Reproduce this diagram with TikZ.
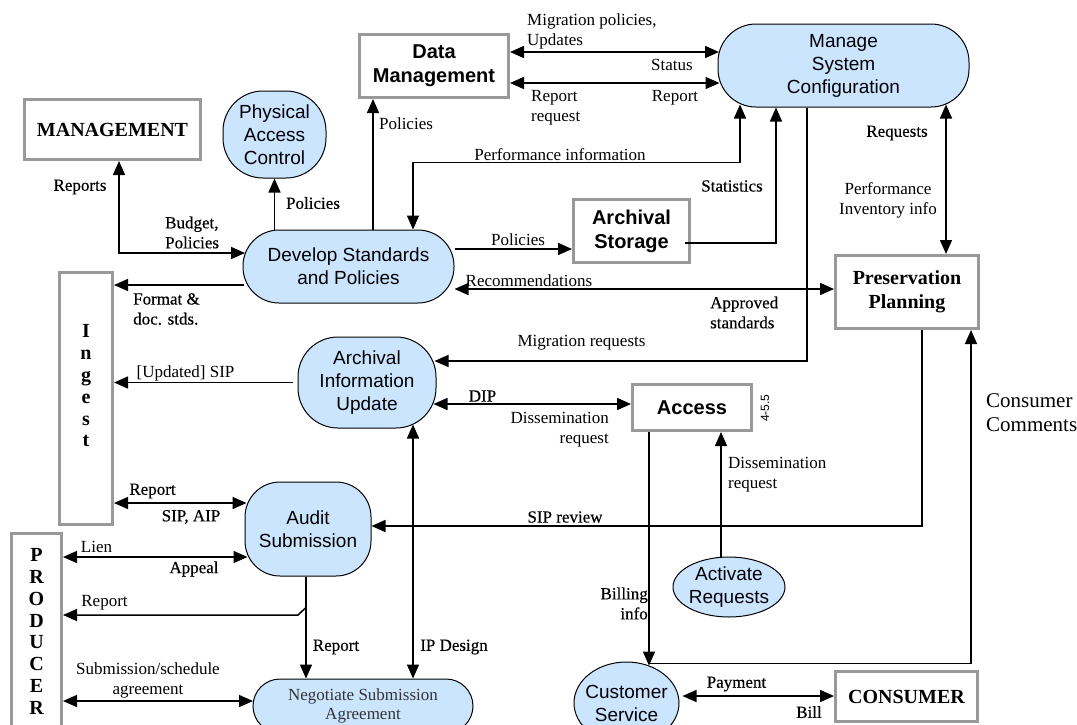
\documentclass[tikz,border=0pt]{standalone}
\usepackage{fontspec}
\setmainfont{Liberation Serif}
\setsansfont{Liberation Sans}
\newfontfamily\heavyserif[BoldFont=Liberation Serif, BoldFeatures={FakeBold=0.35}]{Liberation Serif}
\usetikzlibrary{arrows.meta,calc,shapes.geometric,shapes.misc}

\definecolor{procfill}{RGB}{204,229,255}
\definecolor{boxgray}{RGB}{153,153,153}
\definecolor{nsatext}{RGB}{51,51,51}

\tikzset{
  proc/.style={draw=black, line width=1pt, fill=procfill, align=center, inner sep=0pt,
    font=\sffamily\fontsize{19}{23}\selectfont},
  entity/.style={draw=boxgray, line width=3pt, fill=white, align=center, inner sep=0pt},
  entser/.style={entity, font=\bfseries\fontsize{20}{24}\selectfont},
  entsans/.style={entity, font=\sffamily\bfseries\fontsize{20}{24}\selectfont},
  letters/.style={align=center, inner sep=0pt, font=\bfseries\fontsize{20}{21.8}\selectfont},
  lbl/.style={font=\fontsize{17}{20}\selectfont, inner sep=0pt, align=center},
  hlbl/.style={lbl, font=\heavyserif\bfseries\fontsize{17}{20}\selectfont},
  flow/.style={line width=1.5pt, -{Triangle[length=14pt,width=12pt]}},
  biflow/.style={line width=1.5pt, {Triangle[length=14pt,width=12pt]}-{Triangle[length=14pt,width=12pt]}},
}

\begin{document}
\begin{tikzpicture}[x=1pt,y=-1pt]
\useasboundingbox (0,0) rectangle (1077,724);

% ---------- external entities and functions ----------
\node[entser, minimum width=176pt, minimum height=60pt] (mgmt) at (112.5,129.5) {MANAGEMENT};
\node[proc, minimum width=103pt, minimum height=87pt, rounded corners=40pt] (pac) at (274.5,134.5) {Physical\\Access\\Control};
\node[entsans, minimum width=149pt, minimum height=63pt] (dm) at (434,66) {Data\\Management};
\node[proc, minimum width=251pt, minimum height=83pt, rounded corners=38pt] (msc) at (843.5,65.5) {Manage\\System\\Configuration};
\node[proc, minimum width=211pt, minimum height=73pt, rounded corners=36pt] (dsp) at (348.5,266.5) {Develop Standards\\and Policies};
\node[entsans, minimum width=116pt, minimum height=63pt] (ast) at (631.5,231) {Archival\\Storage};
\node[entser, minimum width=143pt, minimum height=73pt] (pp) at (907,292) {Preservation\\Planning};

\node[entity, minimum width=53pt, minimum height=252pt] (ingest) at (86,398.5) {};
\node[letters] (ingestlbl) at (86,386) {I\\n\\g\\e\\s\\t};

\node[proc, minimum width=138pt, minimum height=91pt, rounded corners=40pt] (aiu) at (367,382.5) {Archival\\Information\\Update};
\node[entsans, minimum width=119pt, minimum height=46pt] (access) at (692,407.5) {Access};
\node[rotate=90, inner sep=0pt, font=\sffamily\fontsize{12}{14}\selectfont] (secnum) at (765,408) {4-5.5};

\node[proc, minimum width=126pt, minimum height=94pt, rounded corners=35pt] (audit) at (308,529) {Audit\\Submission};

\node[entity, minimum width=50pt, minimum height=196pt] (producer) at (36.5,631.5) {};
\node[letters] (producerlbl) at (36.5,631.5) {P\\R\\O\\D\\U\\C\\E\\R};

\node[proc, ellipse, inner xsep=-2pt, minimum width=112pt, minimum height=60pt] (ar) at (729,587) {Activate\\Requests};
\node[proc, ellipse, inner xsep=-6pt, minimum width=105pt, minimum height=82pt] (cs) at (626.5,703) {Customer\\Service};
\node[proc, rounded rectangle, minimum width=220pt, minimum height=54pt, text=nsatext,
  font=\fontsize{17}{19}\selectfont] (nsa) at (363,706) {Negotiate Submission\\Agreement};
\node[entser, minimum width=142pt, minimum height=50pt] (consumer) at (906.5,696.5) {CONSUMER};

% ---------- flows ----------
\draw[biflow] ($(dm.east)+(0,-14)$) -- ($(msc.west)+(1.5,-13.5)$);
\draw[biflow] ($(dm.east)+(0,17)$) -- ($(msc.west)+(2,17.5)$);
\draw[flow] ($(dsp.north)+(24.5,0)$) -- ($(dm.south)+(-61,0)$);
\draw[flow] ($(dsp.north)+(-74,1)$) -- (pac.south);
\draw[biflow] ($(mgmt.south)+(6.5,0)$) |- ($(dsp.west)+(2.5,-13.5)$);
\draw[biflow] ($(msc.south)+(-103.5,-3)$) |- ($(dsp.north)+(64.5,-67)$) -- ($(dsp.north)+(64.5,0)$);
\draw[flow] ($(ast.east)+(-6,12)$) -| ($(msc.south)+(-67.5,0)$);
\draw[flow] ($(dsp.east)+(0,-17.5)$) -- ($(ast.west)+(0,18)$);
\draw[biflow] ($(dsp.east)+(0,22.5)$) -- ($(pp.west)+(0,-3)$);
\draw[biflow] ($(msc.south)+(102.5,-3)$) -- ($(pp.north)+(39,0)$);
\draw[flow] ($(msc.south)+(-36.5,0)$) |- ($(aiu.east)+(-2,-21.5)$);
\draw[flow] ($(dsp.west)+(1,18.5)$) -- ($(ingest.east)+(0,-113.5)$);
\draw[flow] ($(aiu.west)+(-5,0)$) -- ($(ingest.east)+(0,-16)$);
\draw[biflow] ($(aiu.east)+(-3,21.5)$) -- ($(access.west)+(0,-3.5)$);
\draw[flow] ($(access.south)+(-43,0)$) -- ($(cs.north)+(22.5,4)$);
\draw[flow] ($(ar.north)+(-8,0)$) -- ($(access.south)+(29,0)$);
\draw[flow] ($(pp.south)+(15,0)$) |- ($(audit.east)+(0,-3)$);
\draw[flow] ($(cs.north)+(22.5,2)$) -| ($(pp.south)+(64,0)$);
\draw[biflow] ($(ingest.east)+(0,104.5)$) -- ($(audit.west)+(2,-26)$);
\draw[biflow] ($(producer.east)+(0,-74.5)$) -- ($(audit.west)+(3,28)$);
\draw[flow] ($(audit.south)+(-2,0)$) -- ($(nsa.north)+(-57,0)$);
\draw[line width=1.5pt, -{Triangle[length=14pt,width=12pt]}] ($(audit.south)+(-2,31)$) -- ++(-8,7.5) -- ($(producer.east)+(0,-16.5)$);
\draw[biflow] ($(aiu.south)+(46,-4)$) -- ($(nsa.north)+(50,0)$);
\draw[biflow] ($(producer.east)+(0,69.5)$) -- ($(nsa.west)+(0.5,-5)$);
\draw[biflow] ($(cs.east)+(3,-7)$) -- ($(consumer.west)+(0,-0.5)$);

% ---------- flow labels ----------
\node[lbl, anchor=west, align=left] (lmig) at (527,31) {Migration policies,\\Updates};
\node[lbl] (lstatus) at (672,65) {Status};
\node[lbl, anchor=west, align=left] (lrepreq) at (531,108) {Report\\request};
\node[lbl] (lrep1) at (675,98) {Report};
\node[lbl] (lpoldm) at (406,124) {Policies};
\node[lbl] (lperf) at (560,155) {Performance information};
\node[hlbl] (lstat) at (732,186) {Statistics};
\node[hlbl] (lreports) at (80,187) {Reports};
\node[hlbl, anchor=west, align=left] (lbudget) at (165,232.5) {Budget,\\Policies};
\node[hlbl] (lpolpac) at (313,203) {Policies};
\node[lbl] (lpolas) at (518,240) {Policies};
\node[lbl] (lrecom) at (529,281) {Recommendations};
\node[hlbl, anchor=west, align=left] (lappr) at (710,312.5) {Approved\\standards};
\node[hlbl] (lreqs) at (897,133) {Requests};
\node[lbl] (lperfinv) at (888,200.5) {Performance\\Inventory info};
\node[lbl] (lmigreq) at (581.5,343) {Migration requests};
\node[hlbl, anchor=west, align=left] (lformat) at (133,309) {Format \&\\doc. stds.};
\node[lbl] (lupd) at (185.5,373) {[Updated] SIP};
\node[hlbl] (ldip) at (482.5,396) {DIP};
\node[lbl, anchor=east, align=right] (ldiss1) at (609,429.5) {Dissemination\\request};
\node[lbl, anchor=west, align=left] (ldiss2) at (728,474.5) {Dissemination\\request};
\node[hlbl] (lsiprev) at (565,517) {SIP review};
\node[hlbl, anchor=east, align=right] (lbilling) at (648,603.5) {Billing\\info};
\node[hlbl] (lipd) at (454,647) {IP Design};
\node[hlbl] (lrep4) at (336,647) {Report};
\node[hlbl] (lrep2) at (152.5,491) {Report};
\node[hlbl] (lsipaip) at (191,517) {SIP, AIP};
\node[lbl] (llien) at (96.5,547) {Lien};
\node[hlbl] (lappeal) at (194,569) {Appeal};
\node[lbl] (lrep3) at (104.5,603) {Report};
\node[lbl] (lsubm) at (148,680) {Submission/schedule\\agreement};
\node[hlbl] (lpay) at (736.5,684) {Payment};
\node[hlbl] (lbill) at (809,712) {Bill};
\node[lbl, anchor=west, align=left, font=\fontsize{21}{24}\selectfont] (lcomm) at (986,413) {Consumer\\Comments};
\end{tikzpicture}
\end{document}
